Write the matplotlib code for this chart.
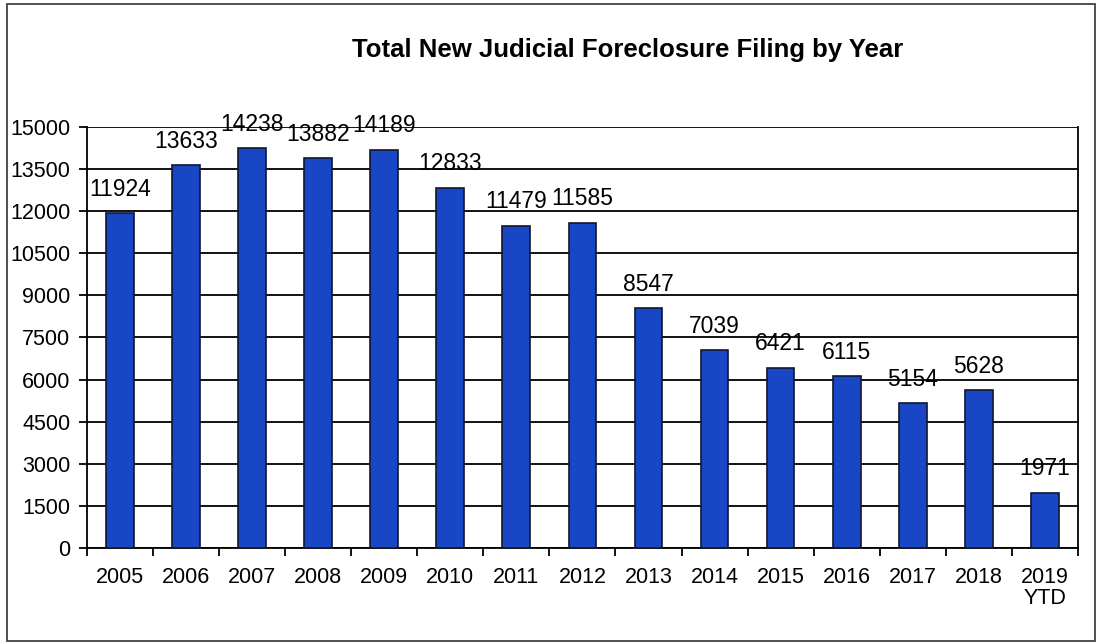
import numpy as np
import matplotlib.pyplot as plt
from matplotlib.patches import Rectangle

years = ['2005', '2006', '2007', '2008', '2009', '2010', '2011', '2012',
         '2013', '2014', '2015', '2016', '2017', '2018', '2019\nYTD']
filings = [11924, 13633, 14238, 13882, 14189, 12833, 11479, 11585,
           8547, 7039, 6421, 6115, 5154, 5628, 1971]
yticks = np.arange(0, 15001, 1500)

plt.rcParams['font.family'] = ['Liberation Sans', 'DejaVu Sans']

fig = plt.figure(figsize=(11.01, 6.44), dpi=100)
ax = fig.add_axes([0.079, 0.149, 0.900, 0.654])

x = np.arange(len(years))
ax.bar(x, filings, width=0.42, color='#1846c4', edgecolor='#101830',
       linewidth=1.2, zorder=3)

for xi, v in zip(x, filings):
    ax.annotate(str(v), (xi, v), xytext=(0, 9), textcoords='offset points',
                ha='center', va='bottom', fontsize=16.5, zorder=4)

ax.set_xlim(-0.5, len(years) - 0.5)
ax.set_ylim(0, 15000)
ax.set_yticks(yticks)
ax.set_yticklabels([str(t) for t in yticks], fontsize=15.5)
ax.yaxis.grid(True, color='black', linewidth=1.3, zorder=0)

# ticks between categories, labels at centers
ax.set_xticks(np.arange(-0.5, len(years), 1.0))
ax.set_xticklabels([])
ax.set_xticks(x, minor=True)
ax.set_xticklabels(years, minor=True, fontsize=15.5, linespacing=1.0)
ax.tick_params(axis='x', which='minor', length=0, pad=14)
ax.tick_params(axis='x', which='major', direction='out', length=6, width=1.3)
ax.tick_params(axis='y', direction='out', length=6, width=1.3, pad=6)

ax.spines['top'].set_visible(False)
for s in ['left', 'bottom', 'right']:
    ax.spines[s].set_linewidth(1.3)

fig.text(0.570, 0.922, 'Total New Judicial Foreclosure Filing by Year',
         ha='center', va='center', fontsize=18.5, fontweight='bold')

fig.patches.append(Rectangle((0.006, 0.004), 0.989, 0.99, transform=fig.transFigure,
                             fill=False, edgecolor='#333333', linewidth=1.2))

fig.savefig('out.png', dpi=100, facecolor='white')
